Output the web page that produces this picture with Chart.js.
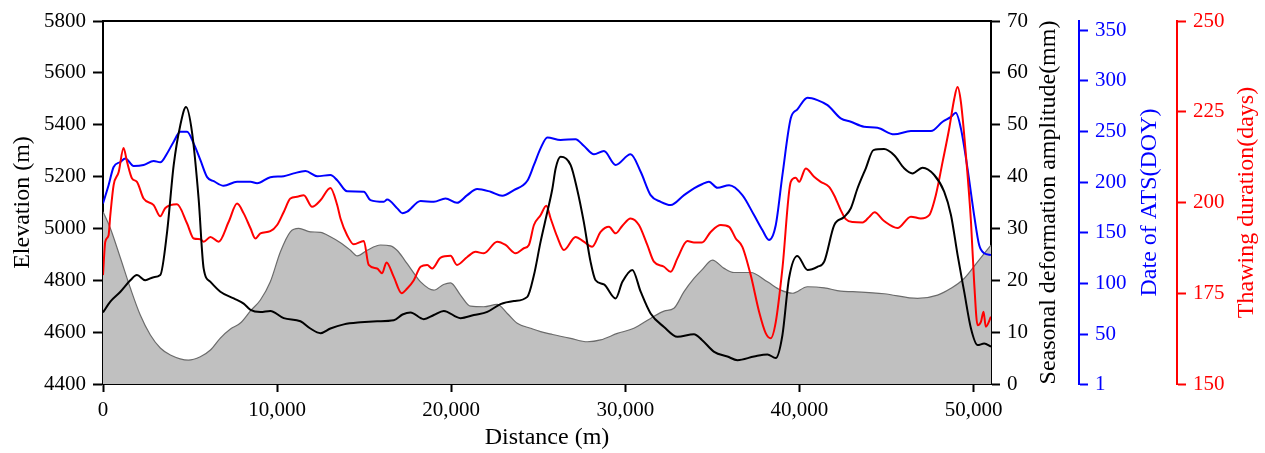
<!DOCTYPE html>
<html lang="en">
<head>
<meta charset="UTF-8" />
<title>Profile along distance</title>
<script src="https://cdn.jsdelivr.net/npm/chart.js@4.4.1/dist/chart.umd.min.js"></script>
<style>
  body { margin: 0; background: #ffffff; }
  #box { position: relative; width: 1265px; height: 453px; }
</style>
</head>
<body>
<div id="box"><canvas id="profileChart"></canvas></div>
<script>
// tick values for every axis
var distTicks = [0, 10000, 20000, 30000, 40000, 50000];
var elevTicks = [4400, 4600, 4800, 5000, 5200, 5400, 5600, 5800];
var defTicks = [0, 10, 20, 30, 40, 50, 60, 70];
var atsTicks = [1, 50, 100, 150, 200, 250, 300, 350];
var thawTicks = [150, 175, 200, 225, 250];

// elevation profile (grey area)
var elevDist = [0, 420, 1000, 1570, 2140, 2720, 3290, 3870, 4900, 5590, 6170, 6740, 7320, 7890, 8470, 9040, 9610, 10190, 10760, 11240, 11910, 12490, 13060, 13640, 14210, 14600, 15170, 15940, 16510, 16900, 17300, 17660, 18240, 19000, 19560, 19960, 20530, 21110, 21870, 22640, 23220, 23790, 24560, 25130, 25820, 26860, 27820, 28580, 29540, 30490, 31450, 32220, 32790, 33370, 33940, 34400, 35000, 35670, 36240, 37200, 38160, 38930, 39600, 40460, 41420, 42370, 43060, 44860, 46780, 47930, 48700, 49460, 50230, 51000];
var elevM = [5064, 5001, 4886, 4770, 4666, 4589, 4539, 4512, 4492, 4505, 4531, 4577, 4612, 4635, 4682, 4724, 4794, 4910, 4987, 5000, 4987, 4985, 4968, 4945, 4916, 4894, 4916, 4936, 4933, 4915, 4880, 4846, 4794, 4762, 4784, 4790, 4743, 4700, 4698, 4707, 4672, 4634, 4615, 4602, 4591, 4576, 4563, 4570, 4595, 4615, 4653, 4681, 4692, 4756, 4807, 4840, 4878, 4846, 4830, 4830, 4794, 4762, 4750, 4775, 4771, 4758, 4756, 4748, 4730, 4743, 4769, 4807, 4871, 4936];

// seasonal deformation amplitude (black)
var defDist = [0, 420, 1000, 1570, 1950, 2430, 2910, 3290, 3680, 4060, 4440, 4770, 5110, 5490, 5780, 6170, 6740, 7510, 8080, 8470, 9040, 9610, 10380, 11340, 11910, 12490, 13060, 13830, 14790, 15740, 16700, 17200, 17660, 18420, 19000, 19570, 20530, 21300, 22070, 22830, 23600, 24370, 24750, 25130, 25520, 25800, 26000, 26280, 26860, 27220, 27610, 28000, 28290, 28770, 29440, 29830, 30400, 30880, 31450, 32220, 32990, 33940, 34400, 35100, 35860, 36440, 37390, 38160, 38640, 39020, 39400, 39880, 40460, 41030, 41420, 41990, 42560, 42950, 43330, 43810, 44250, 44860, 45440, 46010, 46490, 47070, 47740, 48310, 48700, 49080, 49460, 49850, 50230, 50610, 51000];
var defMm = [13.8, 15.9, 17.8, 20.0, 21.0, 20.0, 20.6, 21.0, 29.3, 42.2, 49.9, 53.4, 48.6, 35.8, 22.3, 19.7, 17.8, 16.5, 15.5, 14.3, 13.9, 14.1, 12.7, 12.1, 10.7, 9.8, 10.7, 11.5, 11.9, 12.1, 12.3, 13.4, 13.8, 12.5, 13.3, 14.1, 12.7, 13.3, 13.9, 15.4, 16.0, 16.8, 21.0, 27.4, 33.2, 37.5, 41.6, 43.8, 42.2, 37.7, 31.3, 23.6, 20.0, 19.2, 16.5, 19.7, 22.0, 17.8, 13.6, 11.0, 9.1, 9.6, 8.5, 6.2, 5.3, 4.6, 5.3, 5.7, 5.0, 9.4, 20.4, 24.7, 22.0, 22.6, 23.6, 30.6, 32.2, 33.9, 37.7, 41.6, 45.1, 45.3, 44.1, 41.6, 40.6, 41.7, 40.3, 37.1, 32.6, 24.9, 17.8, 10.7, 7.5, 7.8, 7.2];

// date of ATS, DOY (blue)
var atsDist = [0, 320, 610, 1000, 1280, 1760, 2330, 2910, 3290, 3680, 4060, 4440, 4830, 5210, 5590, 5980, 6360, 6930, 7700, 8470, 8850, 9610, 10380, 10950, 11630, 12300, 13060, 13450, 14020, 14980, 15360, 16130, 16320, 16900, 17200, 17470, 18240, 19000, 19670, 20330, 20920, 21490, 22260, 22930, 23600, 24370, 24750, 25130, 25520, 26280, 27140, 27610, 28200, 28770, 29440, 30300, 30880, 31450, 32030, 32600, 33370, 33940, 34400, 34800, 35290, 35960, 36720, 37390, 37870, 38250, 38640, 39020, 39500, 39880, 40460, 41030, 41610, 42370, 42950, 43710, 44480, 45440, 46400, 47550, 48220, 48700, 48980, 49270, 49650, 50030, 50320, 50610, 51000];
var atsDoy = [179, 197, 215, 220, 223.5, 216, 217, 221, 219.6, 228.4, 240, 249.7, 249.7, 238, 222, 205, 201, 196.5, 200.5, 200.5, 199, 205, 206, 208.7, 211, 206, 207, 202, 191, 190.6, 182.4, 180.7, 183, 174.2, 169.3, 170.9, 181.4, 180.7, 184, 179.7, 187.3, 193.3, 190.6, 186.7, 192.3, 201.4, 217, 233.4, 244.2, 241.6, 242.5, 236, 227.5, 230.7, 217, 227.5, 210.3, 187.3, 180.7, 177.5, 187.3, 194, 198, 200.5, 194.5, 197, 187.3, 167.6, 152.8, 143, 157.8, 207, 263, 271.8, 283.3, 281, 276, 263, 259.6, 254.7, 253.7, 247.2, 250.4, 250.4, 259.6, 264.5, 268.5, 253.1, 213.7, 167.6, 138, 129.9, 128.2];

// thawing duration, days (red)
var thawDist = [0, 130, 320, 420, 610, 900, 1180, 1380, 1670, 1950, 2330, 2910, 3290, 3580, 4250, 4830, 5210, 5590, 5780, 6170, 6640, 7220, 7700, 8080, 8470, 8750, 9040, 9610, 10000, 10380, 10760, 11150, 11530, 12010, 12490, 13060, 13450, 13640, 14020, 14400, 14980, 15260, 15740, 16030, 16280, 16700, 17150, 17470, 17850, 18240, 18620, 18900, 19390, 19960, 20330, 20920, 21400, 21870, 22640, 23120, 23700, 24170, 24460, 24750, 25130, 25460, 25710, 26090, 26470, 27140, 27610, 28090, 28580, 29060, 29440, 29830, 30300, 30780, 31260, 31640, 32220, 32600, 32990, 33560, 33940, 34400, 34900, 35480, 35960, 36340, 36720, 37200, 37680, 38060, 38350, 38640, 39020, 39500, 39790, 39980, 40360, 40840, 41220, 41700, 41990, 42370, 42660, 43060, 43620, 44020, 44310, 44860, 45630, 46400, 46970, 47450, 47830, 48220, 48600, 48890, 49080, 49270, 49560, 49850, 50030, 50230, 50420, 50570, 50700, 51000];
var thawDays = [180, 189.2, 191, 196.5, 204.8, 208.4, 215, 211.2, 206.6, 205.7, 201.1, 199.3, 196.2, 198.5, 199.5, 194.2, 190.1, 189.9, 189.2, 190.5, 189.2, 194.7, 199.7, 197, 192.9, 190.1, 191.5, 192.1, 193.8, 197.4, 201.1, 201.6, 202, 198.8, 200.6, 204, 199.3, 195.6, 191, 188.5, 189.4, 182.8, 181.8, 180.5, 183.5, 179.5, 175, 176.3, 178.6, 182.3, 182.8, 181.8, 184.8, 185.3, 182.8, 185, 186.4, 186, 189.2, 188.3, 186, 187.4, 188.3, 193.8, 196.5, 199.1, 195.6, 190.5, 186.9, 190.5, 189.2, 187.8, 191.9, 193.3, 191.5, 193.6, 195.6, 193.8, 188.3, 183.7, 182.3, 180.9, 184.6, 189.4, 189, 189, 191.9, 193.8, 193.3, 190.1, 187.8, 180, 169.9, 164, 162.6, 167.1, 181.8, 205.7, 206.8, 205.7, 209.4, 207.1, 205.7, 204.3, 202, 197.9, 195.4, 194.6, 194.5, 196.1, 197.3, 194.9, 193, 196.1, 195.6, 196.5, 202, 211.2, 220.4, 228.6, 231.8, 227.7, 213, 194.7, 178.2, 166.2, 167.1, 169.9, 165.8, 168.5];

function pairs(xs, ys) {
  return xs.map(function (d, i) { return { x: d, y: ys[i] }; });
}

var serif = "'Liberation Serif', 'Times New Roman', serif";
var tickFont = { family: serif, size: 21 };
var titleFont = { family: serif, size: 24 };

function fixedTicks(list) {
  return function (scale) {
    scale.ticks = list.map(function (v) { return { value: v }; });
  };
}

function plain(v) { return String(v); }

// right axis titles read bottom to top, so they are drawn here
var sideTitles = {
  id: "sideTitles",
  afterDraw: function (chart) {
    var ctx = chart.ctx;
    var items = [
      { id: "yDef", text: "Seasonal deformation amplitude(mm)", color: "#000000", dx: 58 },
      { id: "yAts", text: "Date of ATS(DOY)", color: "#0000ff", dx: 71 },
      { id: "yThaw", text: "Thawing duration(days)", color: "#ff0000", dx: 70 }
    ];
    var area = chart.chartArea;
    ctx.save();
    // top frame line
    ctx.strokeStyle = "#000000";
    ctx.lineWidth = 2;
    ctx.beginPath();
    ctx.moveTo(area.left, area.top);
    ctx.lineTo(area.right, area.top);
    ctx.stroke();
    ctx.font = "24px " + serif;
    ctx.textAlign = "center";
    ctx.textBaseline = "middle";
    items.forEach(function (it) {
      var s = chart.scales[it.id];
      ctx.save();
      ctx.translate(s.left + it.dx, (area.top + area.bottom) / 2);
      ctx.rotate(-Math.PI / 2);
      ctx.fillStyle = it.color;
      ctx.fillText(it.text, 0, 0);
      ctx.restore();
    });
    ctx.restore();
  }
};

function sideAxis(min, max, list, color, width, weight) {
  return {
    type: "linear",
    position: "right",
    weight: weight,
    z: 1,
    min: min,
    max: max,
    afterBuildTicks: fixedTicks(list),
    afterFit: function (s) { s.width = width; },
    ticks: { font: tickFont, color: color, padding: 7, callback: plain },
    grid: { drawOnChartArea: false, tickLength: 9, tickWidth: 2, tickColor: color },
    border: { display: true, color: color, width: 2 }
  };
}

new Chart(document.getElementById("profileChart"), {
  type: "line",
  data: {
    datasets: [
      {
        label: "Elevation",
        data: pairs(elevDist, elevM),
        yAxisID: "y",
        borderColor: "#6b6b6b",
        borderWidth: 1.2,
        backgroundColor: "#c0c0c0",
        fill: "start",
        pointRadius: 0,
        cubicInterpolationMode: "monotone",
        order: 4
      },
      {
        label: "Date of ATS",
        data: pairs(atsDist, atsDoy),
        yAxisID: "yAts",
        borderColor: "#0000ff",
        borderWidth: 2,
        fill: false,
        pointRadius: 0,
        cubicInterpolationMode: "monotone",
        order: 3
      },
      {
        label: "Thawing duration",
        data: pairs(thawDist, thawDays),
        yAxisID: "yThaw",
        borderColor: "#ff0000",
        borderWidth: 2,
        fill: false,
        pointRadius: 0,
        cubicInterpolationMode: "monotone",
        order: 2
      },
      {
        label: "Seasonal deformation amplitude",
        data: pairs(defDist, defMm),
        yAxisID: "yDef",
        borderColor: "#000000",
        borderWidth: 2,
        fill: false,
        pointRadius: 0,
        cubicInterpolationMode: "monotone",
        order: 1
      }
    ]
  },
  options: {
    responsive: true,
    maintainAspectRatio: false,
    animation: false,
    layout: { padding: { top: 21, right: 0, bottom: 0, left: 0 } },
    plugins: { legend: { display: false }, tooltip: { enabled: false } },
    scales: {
      x: {
        type: "linear",
        position: "bottom",
        z: 1,
        min: 0,
        max: 51000,
        afterBuildTicks: fixedTicks(distTicks),
        afterFit: function (s) { s.height = 69; },
        ticks: {
          font: tickFont,
          color: "#000000",
          padding: 6,
          maxRotation: 0,
          callback: function (v) { return v.toLocaleString("en-US"); }
        },
        grid: { drawOnChartArea: false, tickLength: 8, tickWidth: 2, tickColor: "#000000" },
        border: { display: true, color: "#000000", width: 2 },
        title: { display: true, text: "Distance (m)", font: titleFont, color: "#000000", padding: { top: 0, bottom: 1 } }
      },
      y: {
        type: "linear",
        position: "left",
        z: 1,
        min: 4400,
        max: 5800,
        afterBuildTicks: fixedTicks(elevTicks),
        afterFit: function (s) { s.width = 103; },
        ticks: { font: tickFont, color: "#000000", padding: 7, callback: plain },
        grid: { drawOnChartArea: false, tickLength: 10, tickWidth: 2, tickColor: "#000000" },
        border: { display: true, color: "#000000", width: 2 },
        title: { display: true, text: "Elevation (m)", font: titleFont, color: "#000000", padding: { top: 8, bottom: 0 } }
      },
      yDef: sideAxis(0, 70, defTicks, "#000000", 88, 1),
      yAts: sideAxis(1, 359, atsTicks, "#0000ff", 98, 2),
      yThaw: sideAxis(150, 250, thawTicks, "#ff0000", 88, 3)
    }
  },
  plugins: [sideTitles]
});
</script>
</body>
</html>
